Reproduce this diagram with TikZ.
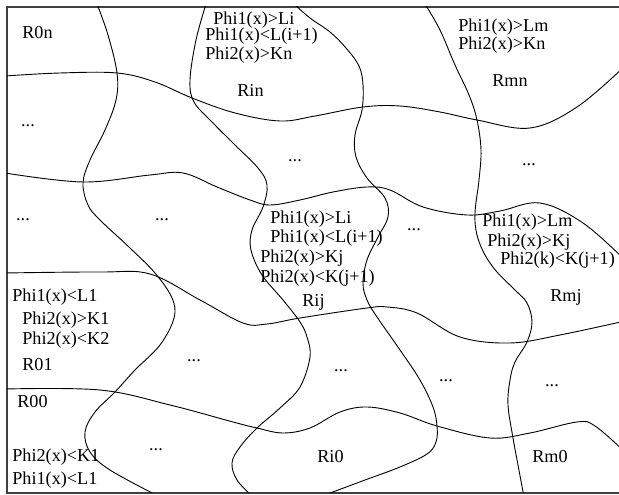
\documentclass[tikz,border=0pt]{standalone}
\usepackage{fontspec}
\setmainfont{Liberation Serif}

\tikzset{
  lbl/.style={anchor=west,inner sep=0pt,font=\fontsize{10}{12}\selectfont},
  dots/.style={anchor=center,inner sep=0pt,font=\fontsize{10}{12}\selectfont},
  curve/.style={line width=0.5pt,black}
}

\begin{document}
\begin{tikzpicture}[x=0.55pt,y=-0.55pt]
  \useasboundingbox (0,0) rectangle (619,495);
  % marco (abierto a la derecha)
  \draw[line width=0.6pt,black!75] (619,7) -- (7,7) -- (7,493) -- (619,493);
  \begin{scope}
    \clip (7,7) rectangle (619,493);
    % fronteras casi horizontales
    \draw[curve] plot[smooth,tension=0.6] coordinates {(5,76) (60,73) (117,73) (155,82) (192,98) (235,113) (280,121) (315,116) (363,107) (400,106) (440,112) (477,120) (530,128) (577,107) (625,66)};
    \draw[curve] plot[smooth,tension=0.6] coordinates {(5,173) (83,182) (150,175) (183,173) (217,187) (250,200) (270,205) (300,200) (333,192) (367,187) (390,190) (423,207) (467,215) (500,211) (540,203) (583,223) (625,260)};
    \draw[curve] plot[smooth,tension=0.6] coordinates {(5,273) (100,272) (150,274) (200,300) (243,323) (267,324) (300,318) (367,308) (387,307) (417,313) (460,337) (510,343) (560,335) (625,321)};
    \draw[curve] plot[smooth,tension=0.6] coordinates {(5,389) (100,390) (170,405) (233,422) (257,428) (283,433) (310,428) (340,412) (367,407) (400,413) (437,426) (490,438) (530,433) (577,422) (595,426) (625,452)};
    % fronteras casi verticales
    \draw[curve] plot[smooth,tension=0.6] coordinates {(97,4) (108,35) (117,73) (116,100) (105,130) (90,160) (83,183) (88,205) (100,220) (130,248) (155,273) (172,298) (174,318) (160,345) (135,370) (115,392) (95,412) (85,432) (90,452) (110,470) (158,496)};
    \draw[curve] plot[smooth,tension=0.6] coordinates {(206,4) (196,40) (190,80) (194,102) (212,122) (235,145) (258,168) (267,185) (263,207) (252,230) (251,250) (262,275) (283,300) (300,322) (307,337) (310,357) (300,387) (280,408) (257,428) (240,447) (232,463) (237,480) (252,496)};
    \draw[curve] plot[smooth,tension=0.6] coordinates {(294,4) (310,18) (330,32) (346,48) (359,66) (363,85) (362,110) (355,135) (356,157) (367,178) (385,198) (388,217) (378,237) (367,260) (363,283) (367,300) (377,317) (400,350) (420,380) (433,407) (437,426) (436,442) (427,454) (400,467) (365,480) (330,493) (318,497)};
    \draw[curve] plot[smooth,tension=0.6] coordinates {(425,4) (440,30) (455,65) (469,95) (477,120) (481,150) (479,180) (475,213) (477,235) (485,255) (497,272) (515,290) (527,303) (532,322) (527,342) (515,362) (510,380) (508,405) (513,438) (518,465) (524,497)};
  \end{scope}
  % etiquetas de las regiones
  \node[lbl] (r0n) at (22,33) {R0n};
  \node[lbl] (rin1) at (213,20) {Phi1(x)>Li};
  \node[lbl] (rin2) at (205,36) {Phi1(x)<L(i+1)};
  \node[lbl] (rin3) at (205,55) {Phi2(x)>Kn};
  \node[lbl] (rin) at (237,90) {Rin};
  \node[lbl] (rmn1) at (458,27) {Phi1(x)>Lm};
  \node[lbl] (rmn2) at (458,45) {Phi2(x)>Kn};
  \node[lbl] (rmn) at (492,81) {Rmn};
  \node[lbl] (rij1) at (270,219) {Phi1(x)>Li};
  \node[lbl] (rij2) at (270,238) {Phi1(x)<L(i+1)};
  \node[lbl] (rij3) at (260,258) {Phi2(x)>Kj};
  \node[lbl] (rij4) at (260,278) {Phi2(x)<K(j+1)};
  \node[lbl] (rij) at (302,302) {Rij};
  \node[lbl] (rmj1) at (482,222) {Phi1(x)>Lm};
  \node[lbl] (rmj2) at (487,242) {Phi2(x)>Kj};
  \node[lbl] (rmj3) at (500,260) {Phi2(k)<K(j+1)};
  \node[lbl] (rmj) at (550,297) {Rmj};
  \node[lbl] (r01a) at (12,297) {Phi1(x)<L1};
  \node[lbl] (r01b) at (22,320) {Phi2(x)>K1};
  \node[lbl] (r01c) at (22,340) {Phi2(x)<K2};
  \node[lbl] (r01) at (22,365) {R01};
  \node[lbl] (r00) at (17,402) {R00};
  \node[lbl] (r00a) at (12,457) {Phi2(x)<K1};
  \node[lbl] (r00b) at (12,480) {Phi1(x)<L1};
  \node[lbl] (ri0) at (317,457) {Ri0};
  \node[lbl] (rm0) at (532,457) {Rm0};
  % puntos suspensivos
  \node[dots] (d1) at (28,126) {...};
  \node[dots] (d2) at (295,161) {...};
  \node[dots] (d3) at (529,165) {...};
  \node[dots] (d4) at (23,220) {...};
  \node[dots] (d5) at (162,220) {...};
  \node[dots] (d6) at (414,230) {...};
  \node[dots] (d7) at (194,361) {...};
  \node[dots] (d8) at (341,371) {...};
  \node[dots] (d9) at (446,381) {...};
  \node[dots] (d10) at (552,386) {...};
  \node[dots] (d11) at (156,450) {...};
\end{tikzpicture}
\end{document}
